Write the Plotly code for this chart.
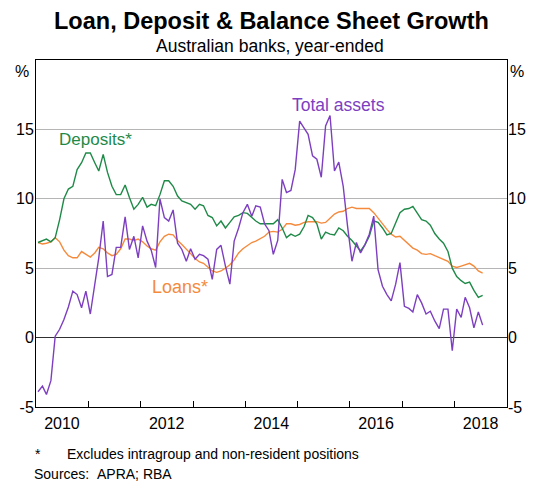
import pandas as pd
import plotly.graph_objects as go

# monthly, Jan 2010 - Jul 2018, year-ended growth (%)
months = pd.date_range("2010-01-01", periods=103, freq="MS") + pd.Timedelta(days=14)

deposits = [
    6.85, 7.0, 7.1, 6.9, 7.2, 8.5, 10.0, 10.7, 10.9, 12.1, 12.6, 13.3, 13.3, 12.6, 12.0, 13.2,
    11.9, 10.9, 10.3, 10.3, 11.0, 10.1, 9.25, 9.6, 10.1, 9.4, 9.6, 9.5, 10.3, 11.3, 11.3, 10.9,
    10.2, 9.85, 9.7, 9.6, 9.25, 9.6, 9.5, 8.8, 8.65, 8.05, 8.4, 7.9, 8.3, 8.7, 8.8, 9.0,
    8.95, 8.65, 8.4, 8.2, 8.2, 8.2, 8.2, 8.5, 7.9, 7.2, 7.45, 7.3, 7.45, 8.0, 8.8, 8.65,
    8.2, 7.1, 7.6, 7.45, 7.4, 7.9, 7.7, 7.3, 7.0, 6.6, 6.25, 6.7, 7.3, 8.4, 8.3, 7.9,
    7.4, 7.5, 8.2, 9.0, 9.25, 9.3, 9.45, 9.0, 8.5, 8.4, 8.1, 7.5, 7.1, 6.8, 6.2, 5.0,
    4.4, 4.1, 3.9, 4.0, 3.4, 2.9, 3.05,
]

loans = [
    6.85, 6.75, 6.8, 6.9, 7.2, 6.9, 6.3, 5.9, 5.75, 5.75, 6.2, 6.0, 5.8, 6.1, 6.5, 6.4,
    6.1, 5.9, 6.0, 6.4, 7.1, 7.1, 7.0, 7.1, 6.9, 6.6, 6.4, 6.3, 6.9, 7.3, 7.45, 7.4,
    7.0, 6.7, 6.4, 6.05, 5.7, 5.45, 5.35, 5.1, 4.8, 4.7, 4.8, 5.0, 5.25, 5.6, 6.1, 6.4,
    6.6, 6.85, 6.95, 7.1, 7.3, 7.6, 7.65, 7.6, 7.8, 8.2, 8.2, 8.1, 8.15, 8.3, 8.35, 8.35,
    8.35, 8.25, 8.3, 8.6, 8.9, 9.05, 9.1, 9.3, 9.4, 9.3, 9.3, 9.25, 9.3, 9.0, 8.6, 8.15,
    7.8, 7.45, 7.25, 7.3, 7.0, 6.7, 6.45, 6.3, 6.05, 6.0, 6.05, 5.9, 5.75, 5.65, 5.5, 5.15,
    5.05, 5.15, 5.25, 5.35, 5.15, 4.8, 4.65,
]

total_assets = [
    -3.9, -3.5, -4.1, -3.1, 0.1, 0.6, 1.3, 2.2, 3.35, 3.1, 2.15, 3.35, 1.7, 3.7, 5.75, 8.4,
    4.4, 4.55, 6.5, 6.5, 8.7, 6.35, 7.3, 5.75, 8.05, 6.95, 6.3, 5.05, 10.0, 8.65, 8.4, 9.2,
    6.8, 6.35, 5.5, 6.4, 5.65, 6.0, 5.9, 5.65, 4.2, 6.35, 6.65, 5.15, 3.85, 6.95, 7.9, 9.0,
    9.6, 8.75, 9.5, 9.4, 8.2, 7.7, 6.0, 7.0, 11.4, 10.45, 10.6, 12.1, 15.6, 15.1, 14.65, 13.1,
    12.85, 11.55, 15.25, 16.0, 12.0, 12.65, 10.9, 8.05, 5.5, 6.85, 6.1, 6.7, 7.45, 8.75, 4.9, 3.7,
    3.1, 2.65, 3.85, 5.4, 2.25, 2.1, 1.85, 3.1, 2.5, 1.7, 1.9, 1.2, 0.65, 2.05, 2.05, -0.95,
    2.05, 1.45, 2.9, 2.15, 0.7, 1.85, 0.9,
]

year_labels = ["2010", "2012", "2014", "2016", "2018"]
y_ticks = [-5, 0, 5, 10, 15, 20]
y_text = ["-5", "0", "5", "10", "15", ""]

GREEN = "#1f8a48"
ORANGE = "#f58a3c"
PURPLE = "#7d3fc0"
FONT = "Liberation Sans, Arial, sans-serif"

# the page body adds an 8px margin, so the figure is 8px smaller on each side
OFF = 8
W, H = 540 - OFF, 486 - OFF
L, T = 35.5 - OFF, 60 - OFF
R, B = W - (507.5 - OFF), H - (406.7 - OFF)


def px(x, y):
    # page pixel position -> paper coords
    x, y = x - OFF, y - OFF
    return (x - L) / (W - L - R), (H - B - y) / (H - T - B)


fig = go.Figure()
fig.add_trace(go.Scatter(x=months, y=loans, mode="lines", line=dict(color=ORANGE, width=1.4),
                         hoverinfo="skip"))
fig.add_trace(go.Scatter(x=months, y=deposits, mode="lines", line=dict(color=GREEN, width=1.4),
                         hoverinfo="skip"))
fig.add_trace(go.Scatter(x=months, y=total_assets, mode="lines", line=dict(color=PURPLE, width=1.4),
                         hoverinfo="skip"))
# invisible trace so the right-hand axis gets drawn
fig.add_trace(go.Scatter(x=months, y=loans, yaxis="y2", mode="lines", opacity=0,
                         line=dict(width=0), hoverinfo="skip"))

xr = ["2010-01-01", "2019-01-01"]
fig.update_layout(
    width=W, height=H,
    margin=dict(l=L, r=R, t=T, b=B),
    paper_bgcolor="white", plot_bgcolor="white",
    showlegend=False,
    font=dict(family=FONT, size=16, color="black"),
    xaxis=dict(
        range=xr, type="date", automargin=False,
        tickmode="array",
        tickvals=[y + "-07-01" for y in year_labels],
        ticktext=year_labels,
        ticks="", ticklen=0, ticklabelstandoff=2, showgrid=False, zeroline=False,
        showline=True, linecolor="black", linewidth=1, mirror=True,
        minor=dict(tickmode="array",
                   tickvals=[f"{y}-01-01" for y in range(2011, 2019)],
                   ticks="inside", ticklen=6, tickcolor="black", showgrid=False),
        tickfont=dict(size=16),
    ),
    yaxis=dict(
        range=[-5, 20], tickmode="array", tickvals=y_ticks, ticktext=y_text,
        ticks="", ticklen=0, automargin=False, ticklabelstandoff=-2,
        showgrid=True, gridcolor="#b5b5b5", gridwidth=1,
        zeroline=True, zerolinecolor="#303030", zerolinewidth=1.2,
        showline=True, linecolor="black", linewidth=1, mirror=True,
        tickfont=dict(size=16),
    ),
    yaxis2=dict(
        range=[-5, 20], overlaying="y", side="right", tickmode="array",
        tickvals=y_ticks, ticktext=y_text, ticks="", ticklen=0, automargin=False,
        ticklabelstandoff=0, showgrid=False, zeroline=False,
        showline=False, tickfont=dict(size=16),
    ),
)

ann = []


def text_at(x, y, text, size, xanchor="center"):
    tx, ty = px(x, y)
    ann.append(dict(x=tx, y=ty, xref="paper", yref="paper", text=text, font=dict(size=size),
                    showarrow=False, xanchor=xanchor, yanchor="middle", borderpad=0))


text_at(271, 21, "<b>Loan, Deposit &amp; Balance Sheet Growth</b>", 23.5)
text_at(270, 46, "Australian banks, year-ended", 17.5)
text_at(21, 71, "%", 16)
text_at(518, 71, "%", 16)
text_at(33, 454, "*", 14, "left")
text_at(66, 454, "Excludes intragroup and non-resident positions", 14, "left")
text_at(32, 474, "Sources:", 14, "left")
text_at(96, 474, "APRA; RBA", 14, "left")

# series labels
ann.append(dict(x="2011-02-19", y=14.3, text="Deposits*", font=dict(size=17, color=GREEN),
                showarrow=False, xref="x", yref="y"))
ann.append(dict(x="2015-10-15", y=16.75, text="Total assets", font=dict(size=17.5, color=PURPLE),
                showarrow=False, xref="x", yref="y"))
ann.append(dict(x="2012-10-05", y=3.63, text="Loans*", font=dict(size=18, color=ORANGE),
                showarrow=False, xref="x", yref="y"))
fig.update_layout(annotations=ann)

fig.write_html("out.html")
